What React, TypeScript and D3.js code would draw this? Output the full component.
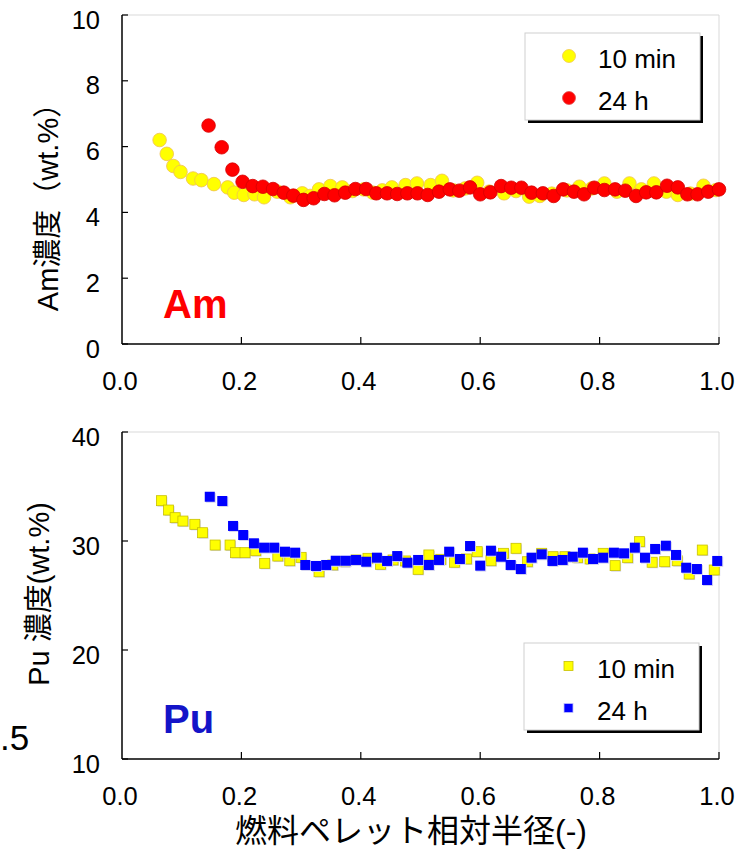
import React from "react";
import * as d3 from "d3";

// ---------- data ----------
const xTicks = [0, 0.2, 0.4, 0.6, 0.8, 1.0];
const amYTicks = [0, 2, 4, 6, 8, 10];
const puYTicks = [10, 20, 30, 40];
const seriesNames = ["10 min", "24 h"];

const amX10 = [0.063,0.075,0.086,0.098,0.119,0.133,0.154,0.177,0.188,0.204,0.222,0.238,0.260,0.282,0.302,0.315,0.330,0.349,0.369,0.386,0.405,0.420,0.436,0.452,0.475,0.494,0.517,0.536,0.555,0.575,0.595,0.615,0.640,0.660,0.682,0.700,0.720,0.745,0.766,0.787,0.808,0.829,0.850,0.870,0.891,0.912,0.931,0.952,0.974,0.995];
const amY10 = [6.20,5.78,5.41,5.23,5.03,4.98,4.86,4.76,4.60,4.53,4.55,4.46,4.63,4.46,4.58,4.50,4.70,4.80,4.76,4.65,4.70,4.60,4.67,4.76,4.83,4.88,4.83,4.96,4.67,4.73,4.90,4.63,4.58,4.65,4.48,4.50,4.57,4.67,4.78,4.73,4.88,4.63,4.88,4.70,4.88,4.63,4.53,4.57,4.81,4.68];

const amX24 = [0.145,0.167,0.185,0.202,0.219,0.236,0.253,0.271,0.287,0.304,0.321,0.339,0.356,0.374,0.391,0.409,0.426,0.444,0.461,0.478,0.495,0.512,0.531,0.549,0.565,0.583,0.600,0.617,0.635,0.652,0.669,0.686,0.705,0.723,0.739,0.757,0.774,0.791,0.808,0.826,0.843,0.861,0.878,0.895,0.913,0.931,0.947,0.964,0.982,1.000];
const amY24 = [6.64,5.98,5.30,4.93,4.80,4.78,4.71,4.60,4.51,4.38,4.43,4.56,4.52,4.60,4.71,4.71,4.58,4.58,4.56,4.58,4.58,4.53,4.63,4.70,4.66,4.76,4.55,4.61,4.80,4.75,4.75,4.60,4.58,4.50,4.70,4.63,4.55,4.75,4.68,4.70,4.66,4.50,4.61,4.61,4.81,4.76,4.55,4.55,4.63,4.70];

const puX10 = [0.066,0.078,0.089,0.102,0.122,0.135,0.156,0.181,0.190,0.206,0.224,0.239,0.261,0.281,0.300,0.330,0.353,0.373,0.392,0.412,0.433,0.454,0.475,0.496,0.514,0.534,0.557,0.577,0.595,0.618,0.639,0.660,0.679,0.703,0.722,0.742,0.763,0.784,0.806,0.826,0.847,0.867,0.888,0.909,0.930,0.950,0.972,0.992];
const puY10 = [33.70,32.84,32.14,31.83,31.53,30.76,29.63,29.63,28.93,28.93,29.11,27.95,28.62,28.19,28.50,27.18,27.80,28.10,28.26,28.41,27.86,28.26,28.17,27.40,28.72,28.32,28.05,28.35,29.02,28.19,28.87,29.33,28.10,28.87,28.56,28.56,28.47,28.35,28.87,27.74,28.47,29.94,28.05,28.10,28.19,26.97,29.17,27.34];

const puX24 = [0.147,0.168,0.186,0.203,0.221,0.238,0.255,0.273,0.290,0.307,0.325,0.342,0.358,0.375,0.392,0.409,0.427,0.444,0.461,0.478,0.496,0.514,0.531,0.548,0.566,0.583,0.600,0.618,0.635,0.651,0.668,0.686,0.703,0.721,0.738,0.755,0.772,0.789,0.806,0.824,0.841,0.859,0.876,0.893,0.911,0.928,0.945,0.963,0.980,0.997];
const puY24 = [34.06,33.67,31.38,30.55,29.79,29.39,29.39,29.02,28.93,27.80,27.71,27.80,28.19,28.19,28.26,28.10,28.47,28.17,28.62,28.01,28.26,27.80,28.26,29.02,28.35,29.54,27.74,29.11,28.56,27.80,27.43,28.47,28.78,28.17,28.26,28.56,28.93,28.35,28.47,28.93,28.87,29.39,28.47,29.27,29.57,28.72,27.55,27.43,26.42,28.17];

// ---------- layout ----------
const W = 751, H = 856;
const LEFT = 122, RIGHT = 719;
const TOP1 = 15, BOT1 = 344;
const TOP2 = 432, BOT2 = 759;
const FONT = "'Liberation Sans', Arial, sans-serif";
const CJK = "'Liberation Sans', 'Noto Sans CJK JP', sans-serif";
const TICK_FS = 25.5;

const x = d3.scaleLinear().domain([0, 1]).range([LEFT, RIGHT]);
const yAm = d3.scaleLinear().domain([0, 10]).range([BOT1, TOP1]);
const yPu = d3.scaleLinear().domain([10, 40]).range([BOT2, TOP2]);
const fmtX = d3.format(".1f");

function Frame({ top, bottom, y, yTicks }: any) {
  return (
    <g>
      <line x1={LEFT} x2={RIGHT} y1={top} y2={top} stroke="#d9d9d9" strokeWidth={1} />
      <line x1={RIGHT} x2={RIGHT} y1={top} y2={bottom} stroke="#d9d9d9" strokeWidth={1} />
      <line x1={LEFT} x2={LEFT} y1={top} y2={bottom} stroke="#000" strokeWidth={1.5} />
      <line x1={LEFT} x2={RIGHT} y1={bottom} y2={bottom} stroke="#000" strokeWidth={1.5} />
      {yTicks.map((t: number) => (
        <g key={"y" + t}>
          <line x1={LEFT} x2={LEFT + 6} y1={y(t)} y2={y(t)} stroke="#000" strokeWidth={1.2} />
          <text x={100} y={y(t) + 13.5} textAnchor="end" fontFamily={FONT} fontSize={TICK_FS} fill="#000">{t}</text>
        </g>
      ))}
      {xTicks.map((t) => (
        <g key={"x" + t}>
          {t > 0 && <line x1={x(t)} x2={x(t)} y1={bottom} y2={bottom - 7} stroke="#000" strokeWidth={1.2} />}
          <text x={x(t) - 2} y={bottom + 46} textAnchor="middle" fontFamily={FONT} fontSize={TICK_FS} fill="#000">{fmtX(t)}</text>
        </g>
      ))}
    </g>
  );
}

function Legend({ x0, y0, kind }: any) {
  const w = 175, h = 87;
  const c1 = "#ffff00";
  const c2 = kind === "circle" ? "#ff0000" : "#0000ff";
  const rows = [c1, c2];
  return (
    <g>
      <rect x={x0 + 3} y={y0 + 3} width={w} height={h} fill="#000" />
      <rect x={x0} y={y0} width={w} height={h} fill="#fff" stroke="#cfcfcf" strokeWidth={1} />
      {rows.map((c, i) => {
        const cy = y0 + 23 + i * 42;
        return (
          <g key={i}>
            {kind === "circle" ? (
              <circle cx={x0 + 44} cy={cy} r={6.5} fill={c} stroke={i === 0 ? "#f2c94c" : "#e05050"} strokeWidth={0.8} />
            ) : (
              <rect x={x0 + 40} y={cy - 4.5} width={9} height={9} fill={c} stroke={i === 0 ? "#c8c000" : "#c0c0ff"} strokeWidth={0.8} />
            )}
            <text x={x0 + 73} y={cy + 11.5} fontFamily={FONT} fontSize={26} fill="#000">{seriesNames[i]}</text>
          </g>
        );
      })}
    </g>
  );
}

export default function App() {
  const am10 = amX10.map((v, i) => [v, amY10[i]]);
  const am24 = amX24.map((v, i) => [v, amY24[i]]);
  const pu10 = puX10.map((v, i) => [v, puY10[i]]);
  const pu24 = puX24.map((v, i) => [v, puY24[i]]);
  const S = 10;
  return (
    <svg width={W} height={H} viewBox={`0 0 ${W} ${H}`} style={{ position: "absolute", left: 0, top: 0, background: "#fff" }}>
      <rect x={0} y={0} width={W} height={H} fill="#fff" />
      {/* top chart */}
      <Frame top={TOP1} bottom={BOT1} y={yAm} yTicks={amYTicks} />
      {am10.map((d, i) => (
        <circle key={"a10" + i} cx={x(d[0])} cy={yAm(d[1])} r={6.8} fill="#ffff00" stroke="#f0c050" strokeWidth={0.8} />
      ))}
      {am24.map((d, i) => (
        <circle key={"a24" + i} cx={x(d[0])} cy={yAm(d[1])} r={6.8} fill="#ff0000" stroke="#d40000" strokeWidth={0.8} />
      ))}
      <Legend x0={525} y0={33} kind="circle" />
      <text x={163} y={318} fontFamily={FONT} fontWeight="bold" fontSize={40} fill="#ff0000">Am</text>
      <text transform="translate(58,200) rotate(-90)" textAnchor="middle" fontFamily={CJK} fontSize={29} fill="#000">Am濃度（wt.%）</text>

      {/* bottom chart */}
      <Frame top={TOP2} bottom={BOT2} y={yPu} yTicks={puYTicks} />
      {pu10.map((d, i) => (
        <g key={"p10" + i}>
          <rect x={x(d[0]) - S / 2 + 1} y={yPu(d[1]) - S / 2 + 1} width={S} height={S} fill="#d4d4f0" />
          <rect x={x(d[0]) - S / 2} y={yPu(d[1]) - S / 2} width={S} height={S} fill="#ffff00" stroke="#c8c000" strokeWidth={0.8} />
        </g>
      ))}
      {pu24.map((d, i) => (
        <g key={"p24" + i}>
          <rect x={x(d[0]) - S / 2 + 1} y={yPu(d[1]) - S / 2 + 1} width={S} height={S} fill="#d4d4f0" />
          <rect x={x(d[0]) - S / 2} y={yPu(d[1]) - S / 2} width={S} height={S} fill="#0000ff" />
        </g>
      ))}
      <Legend x0={524} y0={643} kind="square" />
      <text x={163} y={733} fontFamily={FONT} fontWeight="bold" fontSize={40} fill="#1414c8">Pu</text>
      <text transform="translate(49,594) rotate(-90)" textAnchor="middle" fontFamily={CJK} fontSize={29} fill="#000">Pu 濃度(wt.%)</text>
      <text x={0} y={750} fontFamily={FONT} fontSize={35} fill="#000">.5</text>

      <text x={411} y={842} textAnchor="middle" fontFamily={CJK} fontSize={32} fill="#000">燃料ペレット相対半径(-)</text>
    </svg>
  );
}
